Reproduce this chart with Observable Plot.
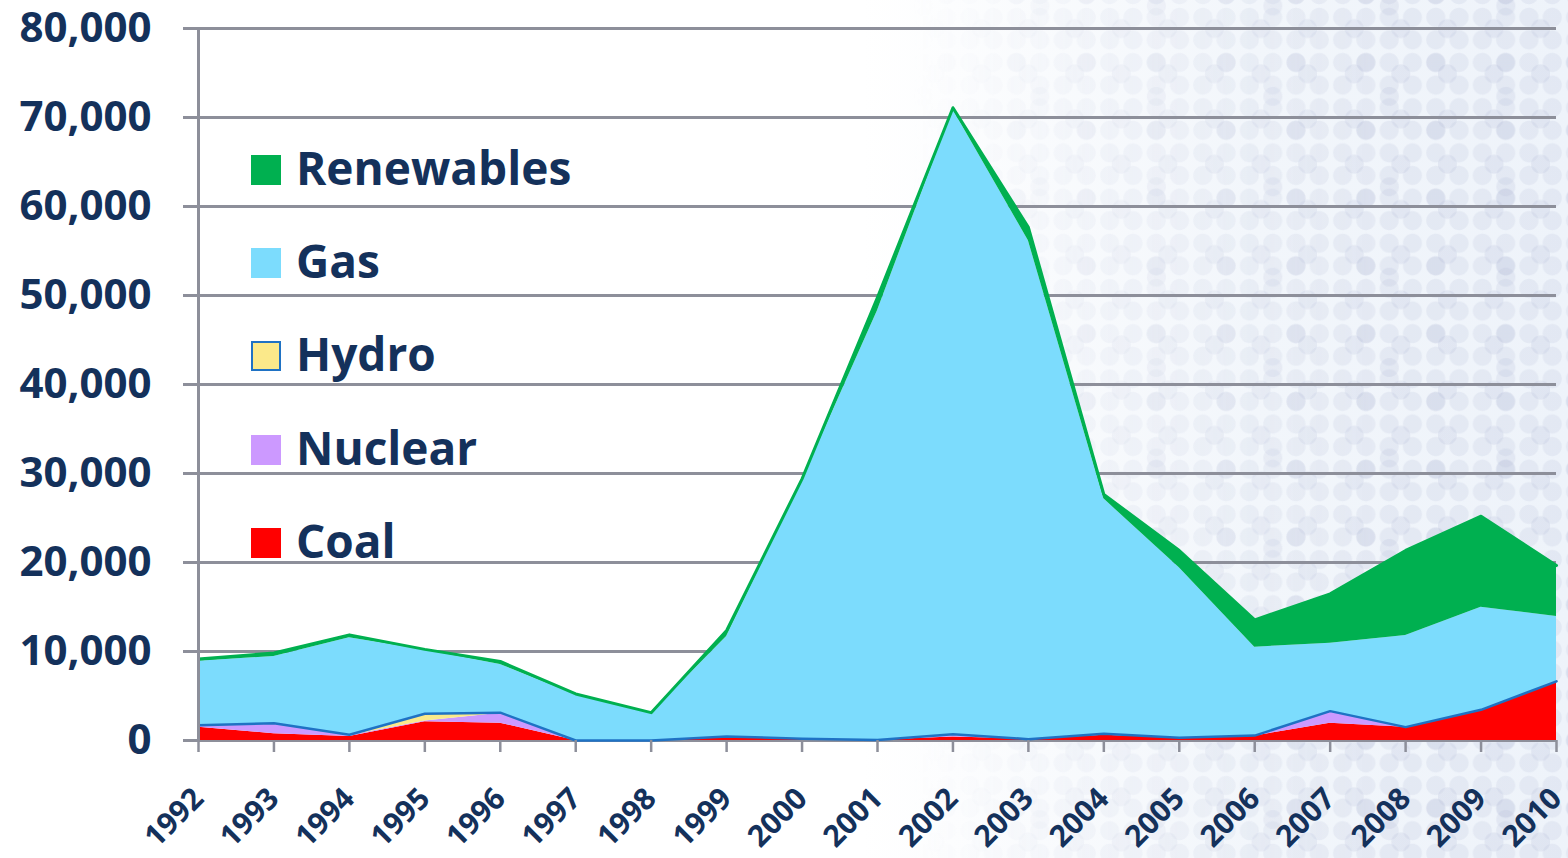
<!DOCTYPE html>
<html>
<head>
<meta charset="utf-8">
<script src="https://cdn.jsdelivr.net/npm/d3@7"></script>
<script src="https://cdn.jsdelivr.net/npm/@observablehq/plot@0.6"></script>
<style>
  html, body { margin: 0; padding: 0; overflow: hidden; background: #fff; }
  #wrap { position: relative; width: 1568px; height: 858px; font-family: "Open Sans", sans-serif; }
  #bg { position: absolute; inset: 0;
        background: linear-gradient(to right, #ffffff 0%, #ffffff 55%, #f2f6fb 80%, #eef3fa 100%); }
  #dots { position: absolute; inset: 0;
    background-image:
      radial-gradient(circle, rgba(175,183,212,0.18) 0 9px, transparent 10px),
      radial-gradient(circle, rgba(175,183,212,0.22) 0 9px, transparent 10px),
      radial-gradient(circle, rgba(175,183,212,0.2) 0 9px, transparent 10px),
      radial-gradient(circle, rgba(175,183,212,0.2) 0 9px, transparent 10px);
    background-size: 23.3px 22.6px, 46.6px 45.2px, 69.9px 67.8px, 116.5px 90.4px;
    background-position: 3px 6px, 26.3px 6px, 3px 28.6px, 49.6px 51.2px;
    -webkit-mask-image: linear-gradient(to right, transparent 58%, rgba(0,0,0,0.5) 71%, #000 88%);
    mask-image: linear-gradient(to right, transparent 58%, rgba(0,0,0,0.5) 71%, #000 88%); }
  #chart { position: absolute; left: 0; top: 0; }
  #legend { position: absolute; left: 251px; top: 123px; }
  .item { display: flex; align-items: center; height: 93.3px; }
  .sw { width: 30px; height: 30px; box-sizing: border-box; margin-right: 15px; }
  .lab { font-family: "Open Sans", sans-serif; font-weight: 700; font-size: 46px; color: #14315b; line-height: 1; position: relative; top: -3px; }
</style>
</head>
<body>
<div id="wrap">
  <div id="bg"></div>
  <div id="dots"></div>
  <div id="chart"></div>
  <div id="legend"></div>
</div>
<script>
// ---- data ----
const years = [1992, 1993, 1994, 1995, 1996, 1997, 1998, 1999, 2000, 2001, 2002, 2003, 2004, 2005, 2006, 2007, 2008, 2009, 2010];
const coal       = [1500, 750, 450, 2100, 1950, 0, 0, 300, 200, 50, 400, 150, 600, 300, 500, 1950, 1500, 3450, 6650];
const nuclear    = [200, 1200, 100, 100, 1100, 0, 0, 150, 0, 0, 300, 0, 150, 0, 50, 1350, 0, 0, 0];
const hydro      = [0, 0, 100, 800, 80, 0, 0, 0, 0, 0, 0, 0, 0, 0, 0, 0, 0, 0, 0];
const gas        = [7200, 7490, 10890, 7160, 5410, 5130, 3070, 11240, 29050, 48250, 70200, 56000, 26400, 19100, 9940, 7630, 10300, 11530, 7280];
const renewables = [250, 400, 330, 80, 340, 100, 60, 670, 150, 1500, 200, 1500, 500, 1950, 3070, 5550, 9550, 10220, 5730];

const seriesNames = ["Coal", "Nuclear", "Hydro", "Gas", "Renewables"];
const seriesColors = ["#ff0000", "#cc99ff", "#fbe98a", "#7cdcfd", "#00b050"];
const yTicks = [0, 10000, 20000, 30000, 40000, 50000, 60000, 70000, 80000];
const legendOrder = ["Renewables", "Gas", "Hydro", "Nuclear", "Coal"];

// ---- build stacked table ----
const valuesBySeries = {Coal: coal, Nuclear: nuclear, Hydro: hydro, Gas: gas, Renewables: renewables};
const rows = [];
const base = years.map(() => 0);
for (const s of seriesNames) {
  years.forEach((yr, j) => {
    const y1 = base[j];
    const y2 = y1 + valuesBySeries[s][j];
    rows.push({series: s, year: yr, y1, y2});
    base[j] = y2;
  });
}

const navy = "#14315b";
const gray = "#8d8f9a";

const chart = Plot.plot({
  width: 1568,
  height: 858,
  marginLeft: 183,
  marginRight: 12,
  marginTop: 28,
  marginBottom: 118,
  style: {background: "transparent", fontFamily: "Open Sans, sans-serif", color: navy, overflow: "visible"},
  x: {domain: [1992, 2010], insetLeft: 15, label: null},
  y: {domain: [0, 80000], label: null},
  color: {domain: seriesNames, range: seriesColors},
  marks: [
    Plot.ruleY(yTicks, {stroke: gray, strokeWidth: 3}),
    Plot.areaY(rows, {x: "year", y1: "y1", y2: "y2", z: "series", fill: "series"}),
    Plot.lineY(rows.filter(d => d.series === "Hydro"), {x: "year", y: "y2", stroke: "#1f72c4", strokeWidth: 2.5}),
    Plot.lineY(rows.filter(d => d.series === "Renewables"), {x: "year", y: "y2", stroke: "#00b050", strokeWidth: 3}),
    Plot.ruleX([years[0]], {y1: 0, y2: 80000, stroke: gray, strokeWidth: 3}),
    // tick marks only
    Plot.axisX({
      ticks: years, tickFormat: () => "", tickSize: 12, stroke: gray, strokeWidth: 2.5, label: null
    }),
    // rotated year labels
    Plot.axisX({
      ticks: years, tickFormat: d => String(d), tickSize: 0, tickPadding: 53,
      tickRotate: -45, fill: navy, fontSize: 30, fontWeight: 700, dx: 0, label: null
    }),
    Plot.axisY({
      ticks: yTicks, tickFormat: d3.format(","), tickSize: 0, tickPadding: 32,
      fill: navy, fontSize: 42, fontWeight: 700, label: null
    })
  ]
});
document.getElementById("chart").appendChild(chart);

// ---- legend ----
const legend = document.getElementById("legend");
for (const name of legendOrder) {
  const i = seriesNames.indexOf(name);
  const item = document.createElement("div");
  item.className = "item";
  const sw = document.createElement("div");
  sw.className = "sw";
  sw.style.background = seriesColors[i];
  if (name === "Hydro") sw.style.border = "2px solid #1f72c4";
  const lab = document.createElement("span");
  lab.className = "lab";
  lab.textContent = name;
  item.appendChild(sw);
  item.appendChild(lab);
  legend.appendChild(item);
}
</script>
</body>
</html>
